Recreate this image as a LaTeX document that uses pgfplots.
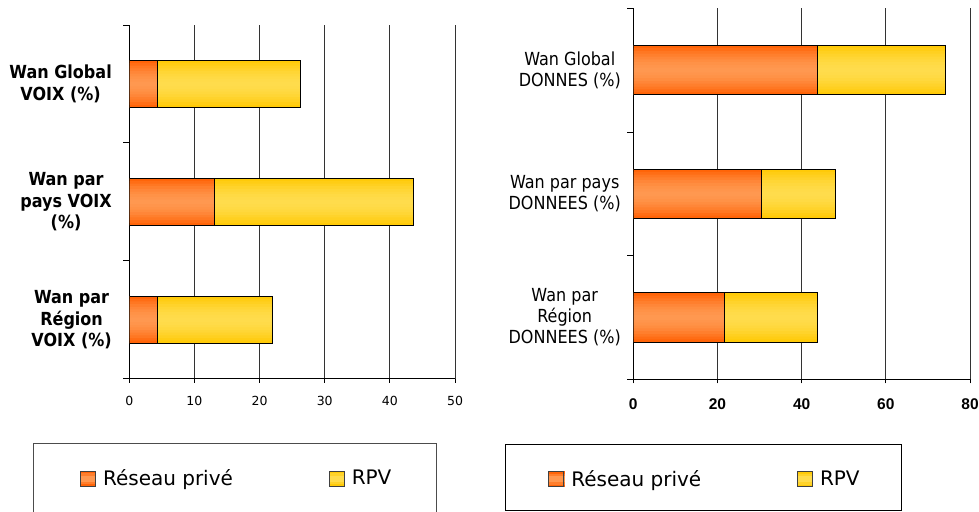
\documentclass[border=0pt]{standalone}
\usepackage{fontspec}
\usepackage{pgfplots}
\usepackage{pgfplotstable}
\pgfplotsset{compat=1.18}
\setmainfont{DejaVu Sans}
\newfontfamily\catfont[FakeStretch=0.89]{DejaVu Sans}
\newfontfamily\tickfont{DejaVu Sans}
\newfontfamily\arialb{Liberation Sans}

\definecolor{orEdge}{HTML}{FF6408}
\definecolor{orMid}{HTML}{FF9850}
\definecolor{yeEdge}{HTML}{FFCA08}
\definecolor{yeMid}{HTML}{FFDC4C}

% Réseau privé share and total (Réseau privé + RPV) per category
\pgfplotstableread{
pos prive total
3   4.3   26.2
2   13.0  43.6
1   4.3   21.9
}\voixdata
\pgfplotstableread{
pos prive total
3   43.7  74.1
2   30.4  48.0
1   21.7  43.7
}\donneesdata

% small legend swatch with the same light centre as the bars
\newcommand\gradswatch[1]{%
  \fill[#1Edge] (0pt,-7.5pt) rectangle (15pt,7.5pt);
  \fill[#1Mid!50!#1Edge] (0pt,-5pt) rectangle (15pt,5pt);
  \fill[#1Mid] (0pt,-2.5pt) rectangle (15pt,2.5pt);
  \draw[black!75, line width=0.8pt] (0pt,-7.5pt) rectangle (15pt,7.5pt);}

\pgfplotsset{
  wanbars/.style={
    scale only axis,
    xbar,
    ymin=0.5, ymax=3.5,
    xmin=0,
    ytick={1,2,3},
    minor ytick={0.5,1.5,2.5,3.5},
    major y tick style={draw=none},
    minor y tick style={black, line width=0.8pt},
    minor tick length=6pt,
    major tick length=4pt,
    tick align=outside,
    x tick style={black, line width=0.8pt},
    axis x line*=bottom,
    axis y line*=left,
    axis line style={black, line width=0.9pt},
    xmajorgrids,
    grid style={black!80, line width=0.8pt},
    yticklabel style={align=center},
    /pgf/number format/assume math mode=true,
    legend columns=2,
    legend cell align=left,
    legend style={draw=none, fill=none, inner sep=0pt,
      nodes={inner xsep=0pt, inner ysep=0pt},
      /tikz/every odd column/.append style={column sep=7pt},
      /tikz/every even column/.append style={column sep=96pt}},
  },
  % one horizontal band of a bar: width, share of the middle colour, colour prefix
  band/.style n args={3}{forget plot, bar shift=0pt, draw=none,
    bar width=#1, fill=#3Mid!#2!#3Edge},
  barframe/.style={forget plot, bar shift=0pt, bar width=0.4,
    fill=none, draw=black, line width=0.8pt},
}

% bar with a light centre fading to a darker top and bottom edge
\newcommand\gradbars[3]{%
  \addplot[band={0.400}{0}{#3}]   table[x=#2,y=pos]{#1};
  \addplot[band={0.355}{18}{#3}]  table[x=#2,y=pos]{#1};
  \addplot[band={0.310}{36}{#3}]  table[x=#2,y=pos]{#1};
  \addplot[band={0.265}{52}{#3}]  table[x=#2,y=pos]{#1};
  \addplot[band={0.220}{66}{#3}]  table[x=#2,y=pos]{#1};
  \addplot[band={0.175}{78}{#3}]  table[x=#2,y=pos]{#1};
  \addplot[band={0.130}{88}{#3}]  table[x=#2,y=pos]{#1};
  \addplot[band={0.085}{95}{#3}]  table[x=#2,y=pos]{#1};
  \addplot[band={0.040}{100}{#3}] table[x=#2,y=pos]{#1};
  \addplot[barframe] table[x=#2,y=pos]{#1};
}

\begin{document}
\begin{tikzpicture}[x=1pt,y=1pt]
\useasboundingbox (0pt,0pt) rectangle (979pt,511pt);
\clip (0pt,0pt) rectangle (979pt,511pt);

% legend frames
\draw[black!70, line width=0.9pt] (33pt,68pt) rectangle (436pt,-5pt);
\draw[black, line width=0.9pt] (505pt,67pt) rectangle (901pt,1pt);

% voice traffic
\begin{axis}[wanbars,
  at={(129.3pt,132.3pt)}, anchor=south west,
  width=325.7pt, height=353.7pt,
  xmax=50, xtick={0,10,20,30,40,50},
  xticklabel style={font=\tickfont\fontsize{12.5}{13}\selectfont, yshift=-10pt},
  yticklabel style={font=\catfont\bfseries\fontsize{18}{21.5}\selectfont, xshift=-10pt},
  yticklabels={{Wan par\\Région\\VOIX (\%)},{Wan par\\pays VOIX\\(\%)},{Wan Global\\VOIX (\%)}},
  legend style={at={(-0.1513,-0.282)}, anchor=west,
    font=\fontsize{20}{22}\selectfont},
]
\gradbars{\voixdata}{total}{ye}
\gradbars{\voixdata}{prive}{or}
\addlegendimage{legend image code/.code={\gradswatch{or}}}
\addlegendentry{Réseau privé}
\addlegendimage{legend image code/.code={\gradswatch{ye}}}
\addlegendentry{RPV}
\end{axis}

% data traffic
\begin{axis}[wanbars,
  at={(633.3pt,131.7pt)}, anchor=south west,
  width=336.7pt, height=371pt,
  xmax=80, xtick={0,20,40,60,80},
  xticklabel style={font=\arialb\bfseries\fontsize{15.5}{16}\selectfont, yshift=-12pt},
  yticklabel style={font=\catfont\fontsize{18}{21}\selectfont, xshift=-5pt},
  yticklabels={{Wan par\\Région\\DONNEES (\%)},{Wan par pays\\DONNEES (\%)},{Wan Global\\DONNES (\%)}},
  legend style={at={(-0.2525,-0.2687)}, anchor=west,
    font=\fontsize{20}{22}\selectfont},
]
\gradbars{\donneesdata}{total}{ye}
\gradbars{\donneesdata}{prive}{or}
\addlegendimage{legend image code/.code={\gradswatch{or}}}
\addlegendentry{Réseau privé}
\addlegendimage{legend image code/.code={\gradswatch{ye}}}
\addlegendentry{RPV}
\end{axis}
\end{tikzpicture}
\end{document}
